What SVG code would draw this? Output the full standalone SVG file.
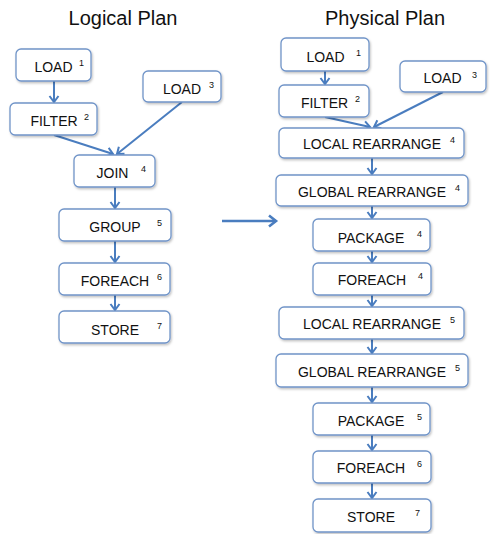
<svg xmlns="http://www.w3.org/2000/svg" width="496" height="534" viewBox="0 0 496 534">
<style>
.box{fill:#fff;stroke:#7094c8;stroke-width:1.3;filter:url(#sh)}
.t{font-family:"Liberation Sans",Arial,sans-serif;font-size:14px;fill:#111;text-anchor:middle}
.s{font-family:"Liberation Sans",Arial,sans-serif;font-size:9px;fill:#111}
.title{font-family:"Liberation Sans",Arial,sans-serif;font-size:20px;fill:#111;text-anchor:middle}
.c{stroke:#4a7dbf;stroke-width:2;fill:none;marker-end:url(#arr)}
</style>
<defs>
<filter id="sh" x="-10%" y="-20%" width="130%" height="160%">
<feDropShadow dx="1" dy="1.5" stdDeviation="1" flood-color="#000" flood-opacity="0.25"/>
</filter>
<marker id="arr" markerUnits="userSpaceOnUse" markerWidth="14" markerHeight="14" viewBox="-8 -7 10 14" refX="0" refY="0" orient="auto" overflow="visible">
<path d="M-6,-4.5 L0,0 L-6,4.5" fill="none" stroke="#4a7dbf" stroke-width="2"/>
</marker>
<marker id="big" markerUnits="userSpaceOnUse" markerWidth="16" markerHeight="16" viewBox="-9 -8 11 16" refX="0" refY="0" orient="auto" overflow="visible">
<path d="M-7,-5.5 L0,0 L-7,5.5" fill="none" stroke="#4a7dbf" stroke-width="2.6"/>
</marker>
</defs>
<rect width="496" height="534" fill="#fff"/>
<text class="title" x="123" y="25">Logical Plan</text>
<text class="title" x="385" y="25">Physical Plan</text>

<g id="connectors">
<line class="c" x1="54" y1="81" x2="54" y2="102"/>
<line class="c" x1="54" y1="135" x2="113" y2="154"/>
<line class="c" x1="182" y1="102" x2="117" y2="154"/>
<line class="c" x1="115" y1="187" x2="115" y2="208"/>
<line class="c" x1="115" y1="241" x2="115" y2="262"/>
<line class="c" x1="115" y1="295" x2="115" y2="310"/>
<line x1="222" y1="221" x2="276" y2="221" stroke="#4a7dbf" stroke-width="2.6" marker-end="url(#big)"/>
<line class="c" x1="325" y1="71" x2="325" y2="84"/>
<line class="c" x1="325" y1="117" x2="370" y2="127"/>
<line class="c" x1="443" y1="92" x2="374" y2="127"/>
<line class="c" x1="372" y1="158" x2="372" y2="174"/>
<line class="c" x1="372" y1="206" x2="372" y2="218"/>
<line class="c" x1="372" y1="251" x2="372" y2="262"/>
<line class="c" x1="372" y1="295" x2="372" y2="306"/>
<line class="c" x1="372" y1="339" x2="372" y2="353"/>
<line class="c" x1="372" y1="387" x2="372" y2="402"/>
<line class="c" x1="372" y1="435" x2="372" y2="450"/>
<line class="c" x1="372" y1="483" x2="372" y2="498"/>
</g>

<g id="l-load1"><rect class="box" x="16" y="49" width="75" height="32" rx="5"/><text class="t" x="53.5" y="72">LOAD</text><text class="s" x="79" y="66">1</text></g>
<g id="l-load3"><rect class="box" x="143" y="71" width="78" height="31" rx="5"/><text class="t" x="182" y="94">LOAD</text><text class="s" x="209" y="88">3</text></g>
<g id="l-filter2"><rect class="box" x="10" y="103" width="87" height="32" rx="5"/><text class="t" x="54" y="126">FILTER</text><text class="s" x="84" y="120">2</text></g>
<g id="l-join4"><rect class="box" x="74" y="155" width="81" height="32" rx="5"/><text class="t" x="112.5" y="178">JOIN</text><text class="s" x="141" y="172">4</text></g>
<g id="l-group5"><rect class="box" x="59" y="209" width="112" height="32" rx="5"/><text class="t" x="115" y="232">GROUP</text><text class="s" x="157" y="226">5</text></g>
<g id="l-foreach6"><rect class="box" x="59" y="263" width="111" height="32" rx="5"/><text class="t" x="115" y="286">FOREACH</text><text class="s" x="157" y="280">6</text></g>
<g id="l-store7"><rect class="box" x="59" y="311" width="111" height="32" rx="5"/><text class="t" x="115" y="335">STORE</text><text class="s" x="157" y="329">7</text></g>

<g id="p-load1"><rect class="box" x="281" y="38" width="88" height="33" rx="5"/><text class="t" x="325.5" y="62">LOAD</text><text class="s" x="356" y="56">1</text></g>
<g id="p-load3"><rect class="box" x="400" y="61" width="86" height="31" rx="5"/><text class="t" x="442.5" y="83">LOAD</text><text class="s" x="472" y="78">3</text></g>
<g id="p-filter2"><rect class="box" x="279" y="85" width="90" height="32" rx="5"/><text class="t" x="324.5" y="108">FILTER</text><text class="s" x="355" y="102">2</text></g>
<g id="p-lr4"><rect class="box" x="279" y="128" width="185" height="30" rx="5"/><text class="t" x="372" y="149">LOCAL REARRANGE</text><text class="s" x="450" y="143">4</text></g>
<g id="p-gr4"><rect class="box" x="276" y="175" width="192" height="31" rx="5"/><text class="t" x="372" y="197">GLOBAL REARRANGE</text><text class="s" x="455" y="191">4</text></g>
<g id="p-pk4"><rect class="box" x="313" y="219" width="117" height="32" rx="5"/><text class="t" x="371" y="243">PACKAGE</text><text class="s" x="417" y="237">4</text></g>
<g id="p-fe4"><rect class="box" x="313" y="263" width="118" height="32" rx="5"/><text class="t" x="372" y="285">FOREACH</text><text class="s" x="418" y="279">4</text></g>
<g id="p-lr5"><rect class="box" x="279" y="307" width="185" height="32" rx="5"/><text class="t" x="372" y="329">LOCAL REARRANGE</text><text class="s" x="450" y="323">5</text></g>
<g id="p-gr5"><rect class="box" x="276" y="354" width="192" height="33" rx="5"/><text class="t" x="372" y="377">GLOBAL REARRANGE</text><text class="s" x="455" y="371">5</text></g>
<g id="p-pk5"><rect class="box" x="313" y="403" width="117" height="32" rx="5"/><text class="t" x="371" y="426">PACKAGE</text><text class="s" x="417" y="420">5</text></g>
<g id="p-fe6"><rect class="box" x="313" y="451" width="118" height="32" rx="5"/><text class="t" x="371" y="473">FOREACH</text><text class="s" x="417" y="467">6</text></g>
<g id="p-st7"><rect class="box" x="313" y="499" width="118" height="33" rx="5"/><text class="t" x="371" y="522">STORE</text><text class="s" x="415" y="516">7</text></g>
</svg>
